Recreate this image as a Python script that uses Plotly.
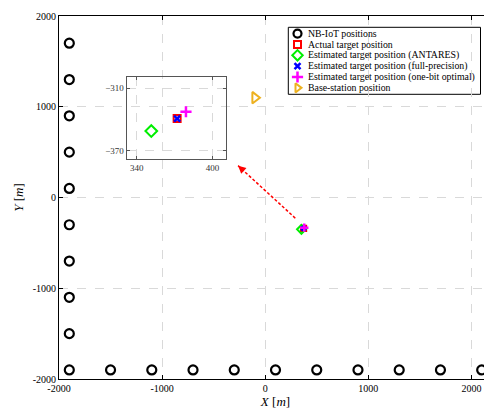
import plotly.graph_objects as go

# ---------------- data ----------------
iot_x = [-1900, -1900, -1900, -1900, -1900, -1900, -1900, -1900, -1900,
         -1900, -1500, -1100, -700, -300, 100, 500, 900, 1300, 1700, 2100]
iot_y = [1700, 1300, 900, 500, 100, -300, -700, -1100, -1500,
         -1900, -1900, -1900, -1900, -1900, -1900, -1900, -1900, -1900, -1900, -1900]

actual_x = [372]
actual_y = [-339]
antares_x = [351.5]
antares_y = [-351]
fullprec_x = [372]
fullprec_y = [-339]
onebit_x = [379]
onebit_y = [-332.5]
bs_x = [-100]
bs_y = [1100]

arrow_x = [292, -263]   # tail, head
arrow_y = [-228, 351]

legend_labels = [
    "NB-IoT positions",
    "Actual target position",
    "Estimated target position (ANTARES)",
    "Estimated target position (full-precision)",
    "Estimated target position (one-bit optimal)",
    "Base-station position",
]

main_xticks = [-2000, -1000, 0, 1000, 2000]
main_yticks = [-2000, -1000, 0, 1000, 2000]
inset_xticks = [340, 400]
inset_yticks = [-370, -310]

# ---------------- styles ----------------
FONT = "Liberation Serif"
styles = [
    dict(symbol="circle-open", color="black", size=9, lw=2.2),
    dict(symbol="square-open", color="red", size=7, lw=2),
    dict(symbol="diamond-open", color="#00ee00", size=9, lw=2),
    dict(symbol="x-thin-open", color="blue", size=6, lw=2.5),
    dict(symbol="cross-thin-open", color="magenta", size=8, lw=2.5),
    dict(symbol="triangle-right-open", color="#EDB120", size=10, lw=2),
]
series = [
    (iot_x, iot_y),
    (actual_x, actual_y),
    (antares_x, antares_y),
    (fullprec_x, fullprec_y),
    (onebit_x, onebit_y),
    (bs_x, bs_y),
]

fig = go.Figure()

# main plot series
for (xs, ys), st in zip(series, styles):
    sz = st["size"] if st["symbol"] in ("circle-open", "triangle-right-open") else st["size"] * 0.75
    fig.add_trace(go.Scatter(
        x=xs, y=ys, mode="markers", showlegend=False, xaxis="x", yaxis="y",
        marker=dict(symbol=st["symbol"], size=sz, color=st["color"],
                    line=dict(color=st["color"], width=st["lw"]))))

# dashed arrow line
fig.add_trace(go.Scatter(x=arrow_x, y=arrow_y, mode="lines", showlegend=False,
                         line=dict(color="red", width=1.5, dash="3px,2px"),
                         xaxis="x", yaxis="y"))
fig.add_annotation(x=arrow_x[1], y=arrow_y[1], ax=arrow_x[1] + 0.06 * (arrow_x[0] - arrow_x[1]),
                   ay=arrow_y[1] + 0.06 * (arrow_y[0] - arrow_y[1]), xref="x", yref="y",
                   axref="x", ayref="y", text="", showarrow=True, arrowhead=2,
                   arrowsize=1.2, arrowwidth=1.3, arrowcolor="red")

# inset series (targets only)
for (xs, ys), st in list(zip(series, styles))[1:5]:
    fig.add_trace(go.Scatter(
        x=xs, y=ys, mode="markers", showlegend=False, xaxis="x2", yaxis="y2",
        marker=dict(symbol=st["symbol"], size=st["size"], color=st["color"],
                    line=dict(color=st["color"], width=st["lw"]))))

# ---------------- manual legend ----------------
# page is rendered with an 8px body margin, image coords -> figure coords
OFF = 8.0
W, H = 433.0, 363.0
L, T = 59.0, 16.0   # plot area top-left in image pixels
def px2paper(px, py):
    return (px - L) / W, (T + H - py) / H

lx0, ly0 = px2paper(288.3, 94.3)
lx1, ly1 = px2paper(480.5, 27.3)
fig.add_shape(type="rect", xref="paper", yref="paper", x0=lx0, y0=ly0, x1=lx1, y1=ly1,
              line=dict(color="black", width=1), fillcolor="white", layer="between")
for i, (lab, st) in enumerate(zip(legend_labels, styles)):
    py = 33.6 + i * 10.85
    mx, my = px2paper(297.5, py)
    tx, _ = px2paper(306.0, py)
    fig.add_trace(go.Scatter(
        x=[mx], y=[my], mode="markers", showlegend=False, xaxis="x3", yaxis="y3",
        marker=dict(symbol=st["symbol"], size=min(st["size"], 8), color=st["color"],
                    line=dict(color=st["color"], width=st["lw"]))))
    fig.add_annotation(x=tx, y=my, xref="paper", yref="paper", text=lab, showarrow=False,
                       xanchor="left", yanchor="middle",
                       font=dict(family=FONT, size=9.8, color="black"))

# ---------------- layout ----------------
grid = dict(showgrid=True, gridcolor="#d9d9d9", griddash="dash", gridwidth=1, zeroline=False)
ix0, iy1 = px2paper(126.7, 76.7)
ix1, iy0 = px2paper(226.3, 159.3)

fig.update_layout(
    width=492, height=409,
    margin=dict(l=L - OFF, r=492 - (L - OFF) - W, t=T - OFF, b=409 - (T - OFF) - H,
                autoexpand=False),
    paper_bgcolor="white", plot_bgcolor="rgba(0,0,0,0)",
    font=dict(family=FONT, size=10, color="black"),
    xaxis=dict(domain=[0, 1], range=[-2000, 2200], tickvals=main_xticks,
               ticktext=[str(v) for v in main_xticks],
               showline=True, linecolor="black", linewidth=1, mirror="ticks",
               ticks="inside", ticklen=4, tickcolor="black",
               title=dict(text="<i>X</i> [<i>m</i>]", font=dict(size=13), standoff=2),
               automargin=False, **grid),
    yaxis=dict(domain=[0, 1], range=[-2000, 2000], tickvals=main_yticks,
               ticktext=[str(v) for v in main_yticks],
               showline=True, linecolor="black", linewidth=1, mirror="ticks",
               ticks="inside", ticklen=4, tickcolor="black",
               title=dict(text="<i>Y</i> [<i>m</i>]", font=dict(size=13), standoff=6),
               automargin=False, **grid),
    xaxis2=dict(domain=[ix0, ix1], range=[332, 411], anchor="y2", tickvals=inset_xticks,
                showline=True, linecolor="#555", linewidth=1.3, mirror="ticks",
                ticks="inside", ticklen=3, tickcolor="#555",
                tickfont=dict(size=9, color="#333"), automargin=False, **grid),
    yaxis2=dict(domain=[iy0, iy1], range=[-378, -299], anchor="x2", tickvals=inset_yticks,
                showline=True, linecolor="#555", linewidth=1.3, mirror="ticks",
                ticks="inside", ticklen=3, tickcolor="#555",
                tickfont=dict(size=9, color="#333"), automargin=False, **grid),
    xaxis3=dict(domain=[0, 1], range=[0, 1], visible=False, anchor="y3", overlaying="x"),
    yaxis3=dict(domain=[0, 1], range=[0, 1], visible=False, anchor="x3", overlaying="y"),
)

fig.write_html("out.html")
